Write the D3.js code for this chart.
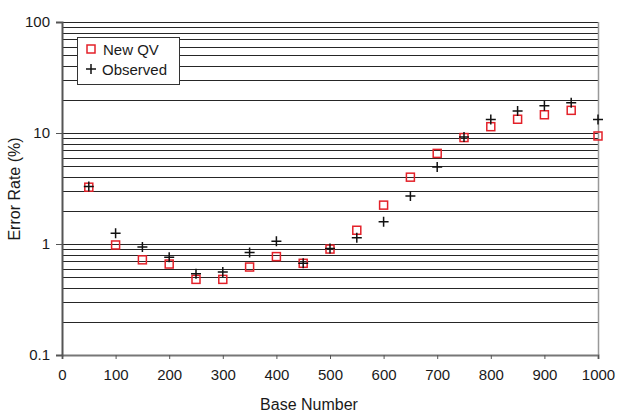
<!DOCTYPE html>
<html>
<head>
<meta charset="utf-8">
<script src="https://cdn.jsdelivr.net/npm/d3@7"></script>
<style>
  body { margin: 0; background: #fff; }
  svg { display: block; }
  text { font-family: "Liberation Sans", Arial, sans-serif; fill: #1a1a1a; }
</style>
</head>
<body>
<svg id="chart" width="618" height="417"></svg>
<script>
const baseNumbers = [50,100,150,200,250,300,350,400,450,500,550,600,650,700,750,800,850,900,950,1000];
const newQV =    [3.25,0.98,0.72,0.66,0.48,0.48,0.62,0.77,0.67,0.90,1.33,2.24,4.0,6.55,9.1,11.4,13.3,14.6,16.0,9.4];
const observed = [3.3,1.25,0.94,0.76,0.54,0.56,0.84,1.06,0.67,0.91,1.14,1.59,2.7,4.95,9.2,13.2,15.8,17.6,18.7,13.2];
const xTicks = [0,100,200,300,400,500,600,700,800,900,1000];
const yTicks = [0.1,1,10,100];
const yTickLabels = ["0.1","1","10","100"];
const seriesNames = ["New QV","Observed"];

const svg = d3.select("#chart");
const L = 62, T = 22, R = 598, B = 355;
const x = d3.scaleLinear().domain([0,1000]).range([L,R]);
const y = d3.scaleLog().domain([0.1,100]).range([B,T]);

// gridlines (all 1..9 x decades)
const grid = [];
for (let d = 0.1; d < 100; d *= 10) for (let k = 1; k <= 10; k++) grid.push(+(d*k).toPrecision(3));
const gridVals = Array.from(new Set(grid)).filter(v => v > 0.1 && v <= 100);
svg.append("g").selectAll("line").data(gridVals).join("line")
  .attr("x1", L).attr("x2", R)
  .attr("y1", d => Math.round(y(d)) + 0.5).attr("y2", d => Math.round(y(d)) + 0.5)
  .attr("stroke", "#262626").attr("stroke-width", 1);

// right border
svg.append("line").attr("x1", R+0.5).attr("x2", R+0.5).attr("y1", T).attr("y2", B)
  .attr("stroke", "#999").attr("stroke-width", 1.5);

// x axis
const xAxis = svg.append("g").attr("transform", `translate(0,${B})`)
  .call(d3.axisBottom(x).tickValues(xTicks).tickSize(4).tickPadding(10).tickFormat(d3.format("d")));
xAxis.select(".domain").attr("stroke", "#777").attr("stroke-width", 2);
xAxis.selectAll(".tick line").attr("stroke", "#555");
xAxis.selectAll("text").style("font-size", "15px").attr("fill", "#1a1a1a");

// y axis
const yAxis = svg.append("g").attr("transform", `translate(${L},0)`)
  .call(d3.axisLeft(y).tickValues(yTicks).tickSize(6).tickPadding(6).tickFormat((d,i) => yTickLabels[i]));
yAxis.select(".domain").attr("stroke", "#555").attr("stroke-width", 2);
yAxis.selectAll(".tick line").attr("stroke", "#555");
yAxis.selectAll("text").style("font-size", "15px").attr("fill", "#1a1a1a");

// markers
const sq = 8;
svg.append("g").selectAll("rect").data(baseNumbers).join("rect")
  .attr("x", (d,i) => x(d) - sq/2).attr("y", (d,i) => y(newQV[i]) - sq/2)
  .attr("width", sq).attr("height", sq)
  .attr("fill", "none").attr("stroke", "#e32129").attr("stroke-width", 1.5);

const pl = 5;
const plusPath = (cx, cy) => `M${cx-pl},${cy}H${cx+pl}M${cx},${cy-pl}V${cy+pl}`;
svg.append("g").selectAll("path").data(baseNumbers).join("path")
  .attr("d", (d,i) => plusPath(x(d), y(observed[i])))
  .attr("stroke", "#111").attr("stroke-width", 1.5).attr("fill", "none");

// legend
const lg = svg.append("g");
lg.append("rect").attr("x", 77.5).attr("y", 37.5).attr("width", 102).attr("height", 47)
  .attr("fill", "#fff").attr("stroke", "#333").attr("stroke-width", 1);
lg.append("rect").attr("x", 91 - sq/2).attr("y", 49 - sq/2).attr("width", sq).attr("height", sq)
  .attr("fill", "none").attr("stroke", "#e32129").attr("stroke-width", 1.5);
lg.append("path").attr("d", plusPath(91, 69)).attr("stroke", "#111").attr("stroke-width", 1.5);
lg.append("text").attr("x", 103).attr("y", 54.5).style("font-size", "15px").text(seriesNames[0]);
lg.append("text").attr("x", 102).attr("y", 74.5).style("font-size", "15px").text(seriesNames[1]);

// axis titles
svg.append("text").attr("x", 309).attr("y", 410).attr("text-anchor", "middle")
  .style("font-size", "16px").text("Base Number");
svg.append("text").attr("transform", "translate(20,189) rotate(-90)").attr("text-anchor", "middle")
  .style("font-size", "16px").text("Error Rate (%)");
</script>
</body>
</html>
